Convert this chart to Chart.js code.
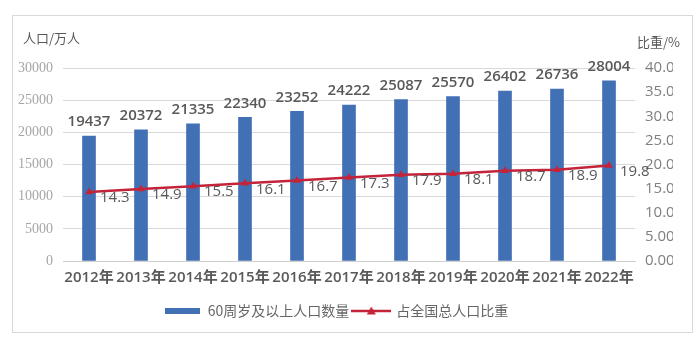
<!DOCTYPE html>
<html>
<head>
<meta charset="utf-8">
<script src="https://cdn.jsdelivr.net/npm/chart.js@4"></script>
<style>
  html, body { margin: 0; padding: 0; background: #fff; }
</style>
</head>
<body>
<canvas id="agingChart" width="697" height="346"></canvas>
<script>
// ---- data ----
const years = ['2012年', '2013年', '2014年', '2015年', '2016年', '2017年',
               '2018年', '2019年', '2020年', '2021年', '2022年'];
// population aged 60+, in 10k persons
const elderlyPopulation = [19437, 20372, 21335, 22340, 23252, 24222, 25087, 25570, 26402, 26736, 28004];
// share of total population, %
const elderlyShare = [14.3, 14.9, 15.5, 16.1, 16.7, 17.3, 17.9, 18.1, 18.7, 18.9, 19.8];
const countTicks = [0, 5000, 10000, 15000, 20000, 25000, 30000];
const shareTicks = [0, 5, 10, 15, 20, 25, 30, 35, 40];

const BAR_COLOR = '#4170b5';
const LINE_COLOR = '#c4243a';
const TEXT_COLOR = '#595959';
const GRID_COLOR = '#d9d9d9';

// small canvases used as legend markers
function swatch(w, h, draw) {
    const c = document.createElement('canvas');
    c.width = w;
    c.height = h;
    draw(c.getContext('2d'));
    return c;
}
const barSwatch = swatch(35, 6, ctx => {
    ctx.fillStyle = BAR_COLOR;
    ctx.fillRect(0, 0, 35, 6);
});
const lineSwatch = swatch(40, 10, ctx => {
    ctx.strokeStyle = LINE_COLOR;
    ctx.lineWidth = 2.5;
    ctx.beginPath();
    ctx.moveTo(0, 5);
    ctx.lineTo(40, 5);
    ctx.stroke();
    ctx.fillStyle = LINE_COLOR;
    ctx.beginPath();
    ctx.moveTo(20, 0.5);
    ctx.lineTo(24.5, 8.5);
    ctx.lineTo(15.5, 8.5);
    ctx.closePath();
    ctx.fill();
});

// outer frame + axis titles
const decorations = {
    id: 'decorations',
    beforeDraw(chart) {
        const ctx = chart.ctx;
        ctx.save();
        ctx.strokeStyle = GRID_COLOR;
        ctx.lineWidth = 1;
        ctx.strokeRect(12.5, 15.5, 680, 317);
        ctx.fillStyle = TEXT_COLOR;
        ctx.font = '13px "Noto Sans CJK SC"';
        ctx.textBaseline = 'middle';
        ctx.textAlign = 'left';
        ctx.fillText('人口/万人', 23, 38);
        ctx.fillText('比重/%', 637, 42);
        ctx.restore();
    }
};

// value labels: counts above bars, shares right of the markers
const valueLabels = {
    id: 'valueLabels',
    afterDatasetsDraw(chart) {
        const ctx = chart.ctx;
        ctx.save();
        ctx.fillStyle = TEXT_COLOR;
        ctx.font = '600 15px "Open Sans"';
        ctx.textAlign = 'center';
        ctx.textBaseline = 'middle';
        chart.getDatasetMeta(0).data.forEach((bar, i) => {
            ctx.fillText(String(elderlyPopulation[i]), bar.x, bar.y - 14);
        });
        ctx.font = '15px "Open Sans"';
        ctx.textAlign = 'left';
        chart.getDatasetMeta(1).data.forEach((pt, i) => {
            ctx.fillText(elderlyShare[i].toFixed(1), pt.x + 11, pt.y + 6);
        });
        ctx.restore();
    }
};

new Chart(document.getElementById('agingChart'), {
    data: {
        labels: years,
        datasets: [
            {
                type: 'bar',
                label: '60周岁及以上人口数量',
                data: elderlyPopulation,
                backgroundColor: BAR_COLOR,
                barThickness: 13,
                yAxisID: 'y',
                order: 2
            },
            {
                type: 'line',
                label: '占全国总人口比重',
                data: elderlyShare,
                borderColor: LINE_COLOR,
                backgroundColor: LINE_COLOR,
                borderWidth: 2.5,
                pointStyle: 'triangle',
                pointRadius: 4.5,
                pointBorderWidth: 0,
                tension: 0,
                yAxisID: 'y1',
                order: 1
            }
        ]
    },
    options: {
        responsive: false,
        devicePixelRatio: 1,
        animation: false,
        layout: { padding: { top: 68, left: 0, right: 24, bottom: 18 } },
        plugins: {
            tooltip: { enabled: false },
            legend: {
                position: 'bottom',
                labels: {
                    color: '#666666',
                    font: { family: '"Noto Sans CJK SC"', size: 14 },
                    usePointStyle: true,
                    pointStyleWidth: 36,
                    padding: 4,
                    generateLabels(chart) {
                        const items = Chart.defaults.plugins.legend.labels.generateLabels(chart);
                        items.sort((a, b) => a.datasetIndex - b.datasetIndex);
                        items.forEach(item => {
                            item.pointStyle = item.datasetIndex === 0 ? barSwatch : lineSwatch;
                        });
                        return items;
                    }
                }
            }
        },
        scales: {
            x: {
                grid: { display: false, drawTicks: false },
                border: { display: true, color: '#cfcfcf' },
                ticks: {
                    color: TEXT_COLOR,
                    font: { family: '"Open Sans", "Noto Sans CJK SC"', size: 15, weight: '600' },
                    padding: 8,
                    autoSkip: false,
                    maxRotation: 0
                },
                afterFit(scale) { scale.height = 39; }
            },
            y: {
                position: 'left',
                min: 0,
                max: 30000,
                afterBuildTicks(scale) { scale.ticks = countTicks.map(v => ({ value: v })); },
                ticks: {
                    color: '#a6a6a6',
                    font: { family: '"Liberation Serif", serif', size: 14 },
                    padding: 10,
                    callback: v => String(v)
                },
                grid: { color: GRID_COLOR, drawTicks: false },
                border: { display: false },
                afterFit(scale) { scale.width = 63; }
            },
            y1: {
                position: 'right',
                min: 0,
                max: 40,
                afterBuildTicks(scale) { scale.ticks = shareTicks.map(v => ({ value: v })); },
                ticks: {
                    color: '#7f7f7f',
                    font: { family: '"Open Sans"', size: 15 },
                    padding: 10,
                    callback: v => v.toFixed(2)
                },
                grid: { display: false, drawTicks: false },
                border: { display: false },
                afterFit(scale) { scale.width = 38; }
            }
        }
    },
    plugins: [decorations, valueLabels]
});
</script>
</body>
</html>
